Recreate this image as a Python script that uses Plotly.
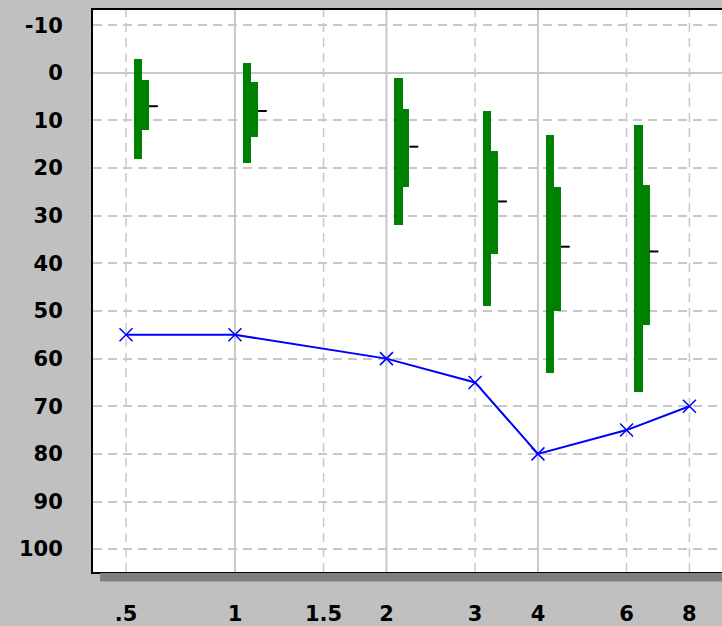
import plotly.graph_objects as go

# Frequency labels (kHz) and their positions along the horizontal axis
freq_labels = [".5", "1", "1.5", "2", "3", "4", "6", "8"]
freq_pos = [-0.719, 0.0, 0.585, 1.0, 1.585, 2.0, 2.585, 3.0]
pos = dict(zip(freq_labels, freq_pos))

# Octave frequencies get solid grid lines, the rest dashed
octave_freqs = ["1", "2", "4"]

# Reference range (green): outer range, inner range and median, dB HL
range_freqs = [".5", "1", "2", "3", "4", "6"]
outer_top = [-3, -2, 1, 8, 13, 11]
outer_bottom = [18, 19, 32, 49, 63, 67]
inner_top = [1.5, 2, 7.5, 16.5, 24, 23.5]
inner_bottom = [12, 13.5, 24, 38, 50, 53]
median = [7, 8, 15.5, 27, 36.5, 37.5]

# Measured thresholds (blue)
thr_freqs = [".5", "1", "2", "3", "4", "6", "8"]
thresholds = [55, 55, 60, 65, 80, 75, 70]

y_ticks = [-10, 0, 10, 20, 30, 40, 50, 60, 70, 80, 90, 100]
y_labels = ["-10", "0", "10", "20", "30", "40", "50", "60", "70", "80", "90", "100"]

GREEN = "#008000"
GRID = "#c8c8c8"
BG = "#c0c0c0"
TICK_FONT = dict(size=21, weight="bold", family="DejaVu Sans", color="black")

rx = [pos[f] for f in range_freqs]

fig = go.Figure()

# vertical grid lines at each labelled frequency
for f in freq_labels:
    solid = f in octave_freqs
    fig.add_shape(type="line", xref="x", yref="paper", x0=pos[f], x1=pos[f],
                  y0=0, y1=1, layer="below",
                  line=dict(color=GRID, width=2 if solid else 1.5,
                            dash="solid" if solid else "9px,6px"))

# outer range bar
fig.add_trace(go.Bar(
    x=rx, base=outer_top, y=[b - t for t, b in zip(outer_top, outer_bottom)],
    width=0.055, offset=0.052, marker=dict(color=GREEN, line=dict(width=0)),
    hoverinfo="skip"))
# inner range bar (wider)
fig.add_trace(go.Bar(
    x=rx, base=inner_top, y=[b - t for t, b in zip(inner_top, inner_bottom)],
    width=0.1, offset=0.052, marker=dict(color=GREEN, line=dict(width=0)),
    hoverinfo="skip"))

# median ticks
mx, my = [], []
for x, m in zip(rx, median):
    mx += [x + 0.152, x + 0.21, None]
    my += [m, m, None]
fig.add_trace(go.Scatter(x=mx, y=my, mode="lines",
                         line=dict(color="black", width=2), hoverinfo="skip"))

# thresholds
fig.add_trace(go.Scatter(
    x=[pos[f] for f in thr_freqs], y=thresholds, mode="lines+markers",
    line=dict(color="#0000ff", width=2),
    marker=dict(symbol="x-thin", size=13, line=dict(color="#0000ff", width=1.5)),
    hoverinfo="skip"))

# drop shadow under the plot frame
fig.add_shape(type="rect", xref="paper", yref="paper", x0=0.011, x1=1.0,
              y0=-0.017, y1=-0.002, fillcolor="#808080", line=dict(width=0),
              layer="above")

fig.update_layout(
    width=722, height=626,
    margin=dict(l=93, r=0, t=10, b=54, autoexpand=False),
    paper_bgcolor=BG, plot_bgcolor="white",
    barmode="overlay", showlegend=False, bargap=0,
    font=dict(family="DejaVu Sans", color="black"),
)

fig.update_xaxes(
    range=[-0.937, 3.215], tickmode="array", tickvals=freq_pos, ticktext=freq_labels,
    tickfont=TICK_FONT, automargin=False, showgrid=False,
    showline=True, linecolor="black", linewidth=2, mirror=True,
    ticks="", ticklabelstandoff=22, zeroline=False, fixedrange=True,
)
fig.update_yaxes(
    range=[104.8, -13.2], tickmode="array", tickvals=y_ticks, ticktext=y_labels,
    tickfont=TICK_FONT, automargin=False,
    showgrid=True, gridcolor=GRID, gridwidth=1.5, griddash="9px,6px",
    zeroline=True, zerolinecolor=GRID, zerolinewidth=2,
    showline=True, linecolor="black", linewidth=2, mirror=False,
    ticks="", ticklabelstandoff=24, fixedrange=True,
)

fig.write_html("out.html")
